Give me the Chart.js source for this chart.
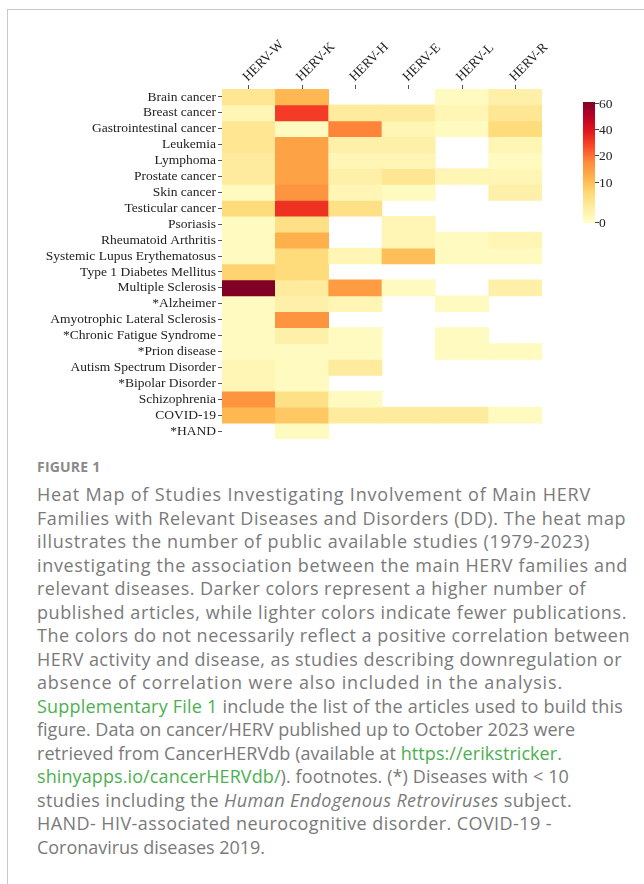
<!DOCTYPE html>
<html>
<head>
<meta charset="utf-8">
<script src="https://cdn.jsdelivr.net/npm/chart.js@4"></script>
<style>
  html, body { margin: 0; padding: 0; background: #fff; }
  body { width: 644px; height: 884px; position: relative; overflow: hidden; }
  .frame { position: absolute; left: 7px; top: 9px; width: 700px; height: 900px;
           border-top: 1px solid #c8c8c8; border-left: 1px solid #c8c8c8; }
  #wrap { position: absolute; left: 0; top: 0; width: 644px; height: 450px; }
  .fig { position: absolute; left: 37px; top: 457px; font-family: "Open Sans", sans-serif;
         font-weight: 700; font-size: 14px; color: #8a8a8a; letter-spacing: 0.2px; }
  .cap { position: absolute; left: 37px; top: 483px; font-family: "Open Sans", sans-serif;
         font-size: 18px; line-height: 23.5px; color: #7a7a7a; white-space: nowrap; }
  .cap span { display: inline-block; }
  .cap a { color: #4caf50; text-decoration: none; }
</style>
</head>
<body>
<div class="frame"></div>
<div id="wrap"><canvas id="heat"></canvas></div>
<div class="fig">FIGURE 1</div>
<div class="cap">
<span data-end="591">Heat Map of Studies Investigating Involvement of Main HERV</span><br>
<span data-end="626">Families with Relevant Diseases and Disorders (DD). The heat map</span><br>
<span data-end="590">illustrates the number of public available studies (1979-2023)</span><br>
<span data-end="628">investigating the association between the main HERV families and</span><br>
<span data-end="586">relevant diseases. Darker colors represent a higher number of</span><br>
<span data-end="627">published articles, while lighter colors indicate fewer publications.</span><br>
<span data-end="630">The colors do not necessarily reflect a positive correlation between</span><br>
<span data-end="622">HERV activity and disease, as studies describing downregulation or</span><br>
<span data-end="563">absence of correlation were also included in the analysis.</span><br>
<span data-end="623"><a>Supplementary File 1</a> include the list of the articles used to build this</span><br>
<span data-end="575">figure. Data on cancer/HERV published up to October 2023 were</span><br>
<span data-end="562">retrieved from CancerHERVdb (available at <a>https://erikstricker.</a></span><br>
<span data-end="569"><a>shinyapps.io/cancerHERVdb/</a>). footnotes. (*) Diseases with &lt; 10</span><br>
<span data-end="572">studies including the <i>Human Endogenous Retroviruses</i> subject.</span><br>
<span data-end="552">HAND- HIV-associated neurocognitive disorder. COVID-19 -</span><br>
<span data-end="265">Coronavirus diseases 2019.</span>
</div>
<script>
const families = ["HERV-W", "HERV-K", "HERV-H", "HERV-E", "HERV-L", "HERV-R"];
const diseases = [
  "Brain cancer", "Breast cancer", "Gastrointestinal cancer", "Leukemia", "Lymphoma",
  "Prostate cancer", "Skin cancer", "Testicular cancer", "Psoriasis", "Rheumatoid Arthritis",
  "Systemic Lupus Erythematosus", "Type 1 Diabetes Mellitus", "Multiple Sclerosis",
  "*Alzheimer", "Amyotrophic Lateral Sclerosis", "*Chronic Fatigue Syndrome",
  "*Prion disease", "Autism Spectrum Disorder", "*Bipolar Disorder", "Schizophrenia",
  "COVID-19", "*HAND"
];

// number of studies per disease (same order as diseases), null = no studies
const hervW = [5, 2, 5, 5, 4, 4, 1, 7, 1, 1, 1, 8, 60, 1, 1, 1, 1, 2, 2, 16, 11, null];
const hervK = [11, 30, 1, 14, 14, 14, 16, 32, 6, 12, 7, 7, 4, 3, 16, 3, 1, 1, 1, 6, 9, 1];
const hervH = [null, 4, 18, 3, 2, 3, 2, 6, null, null, 2, null, 15, 2, null, 1, 1, 4, null, 1, 4, null];
const hervE = [null, 4, 2, 3, 2, 5, 1, null, 2, 2, 10, null, 1, null, null, null, null, null, null, null, 4, null];
const hervL = [1, 2, 1, null, null, 2, null, null, null, 1, 1, null, null, 1, null, 1, 1, null, null, null, 4, null];
const hervR = [3, 5, 7, 2, 1, 2, 3, null, null, 2, 1, null, 3, null, null, null, 1, null, null, null, 1, null];

const colorbarTicks = [0, 10, 20, 40, 60];
const colorbarPos = [0, 0.336, 0.563, 0.78, 1];  // where each tick sits on the bar

const columns = [hervW, hervK, hervH, hervE, hervL, hervR];

const ylorrd = [
  [255, 255, 204], [255, 237, 160], [254, 217, 118], [254, 178, 76], [253, 141, 60],
  [252, 78, 42], [227, 26, 28], [189, 0, 38], [128, 0, 38]
];

// stretch each caption line so it ends where the original's does
document.querySelectorAll(".cap span").forEach(s => {
  const target = +s.dataset.end - 37;
  const n = s.textContent.length;
  const w = s.getBoundingClientRect().width;
  s.style.letterSpacing = ((target - w) / n).toFixed(3) + "px";
});

function valueToT(v) {
  for (let i = 1; i < colorbarTicks.length; i++) {
    if (v <= colorbarTicks[i]) {
      const f = (v - colorbarTicks[i - 1]) / (colorbarTicks[i] - colorbarTicks[i - 1]);
      return colorbarPos[i - 1] + f * (colorbarPos[i] - colorbarPos[i - 1]);
    }
  }
  return 1;
}

function tToColor(t) {
  const s = Math.min(Math.max(t, 0), 1) * (ylorrd.length - 1);
  const i = Math.min(Math.floor(s), ylorrd.length - 2);
  const f = s - i;
  const a = ylorrd[i], b = ylorrd[i + 1];
  const c = a.map((x, k) => Math.round(x + (b[k] - x) * f));
  return "rgb(" + c.join(",") + ")";
}

// one dataset per disease row, floating bars span [row, row + 1]
const datasets = diseases.map((d, i) => ({
  label: d,
  data: columns.map(col => col[i] == null ? null : [i, i + 1]),
  backgroundColor: columns.map(col => col[i] == null ? "rgba(0,0,0,0)" : tToColor(valueToT(col[i]))),
  borderWidth: 0,
  grouped: false,
  barPercentage: 1,
  categoryPercentage: 1
}));

const serif = { family: "'Liberation Serif', 'Times New Roman', serif", size: 13.5 };

const colorbar = {
  id: "colorbar",
  afterDraw(chart) {
    const ctx = chart.ctx;
    const x = 583, w = 12, top = 102, bottom = 223;
    const g = ctx.createLinearGradient(0, bottom, 0, top);
    ylorrd.forEach((c, i) => g.addColorStop(i / (ylorrd.length - 1), "rgb(" + c.join(",") + ")"));
    ctx.save();
    ctx.fillStyle = g;
    ctx.fillRect(x, top, w, bottom - top);
    ctx.font = serif.size + "px " + serif.family;
    ctx.fillStyle = "#222";
    ctx.strokeStyle = "#444";
    ctx.lineWidth = 1;
    ctx.textBaseline = "middle";
    ctx.textAlign = "left";
    colorbarTicks.forEach((v, i) => {
      const y = Math.round(bottom - colorbarPos[i] * (bottom - top - 2)) - 0.5;
      ctx.beginPath();
      ctx.moveTo(x + w, y);
      ctx.lineTo(x + w + 4, y);
      ctx.stroke();
      ctx.fillText(String(v), x + w + 4, y + 1);
    });
    ctx.restore();
  }
};

new Chart(document.getElementById("heat"), {
  type: "bar",
  data: { labels: families, datasets: datasets },
  options: {
    responsive: true,
    maintainAspectRatio: false,
    animation: false,
    layout: { padding: { left: 0, right: 102, top: 0, bottom: 11 } },
    plugins: { legend: { display: false }, tooltip: { enabled: false } },
    scales: {
      x: {
        type: "category",
        position: "top",
        offset: true,
        grid: { offset: false, drawOnChartArea: false, tickLength: 4, color: "#555" },
        border: { display: false },
        ticks: { font: serif, color: "#222", minRotation: 45, maxRotation: 45, padding: 0,
                 labelOffset: 8, autoSkip: false },
        afterFit(scale) { scale.height = 89; }
      },
      y: {
        type: "linear",
        min: 0,
        max: diseases.length,
        reverse: true,
        grid: { drawOnChartArea: false, tickLength: 4, color: "#555" },
        border: { display: false },
        afterBuildTicks(scale) {
          scale.ticks = diseases.map((d, i) => ({ value: i + 0.5 }));
        },
        ticks: {
          font: serif, color: "#222", padding: 2, autoSkip: false,
          callback: (v, i) => diseases[i]
        },
        afterFit(scale) { scale.width = 222; }
      }
    }
  },
  plugins: [colorbar]
});
</script>
</body>
</html>
